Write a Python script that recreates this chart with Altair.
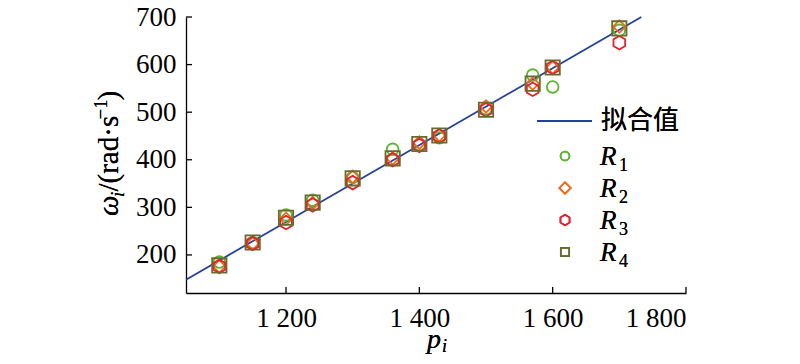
import altair as alt
import pandas as pd

# ---- data ----
p_vals = [1100, 1150, 1200, 1240, 1300, 1360, 1400, 1430, 1500, 1570, 1600, 1700]
r1 = [185, 226, 284, 315, 363, 422, 432, 446, 507, 578, 553, 672]
r2 = [176, 224, 276, 309, 364, 403, 436, 452, 512, 560, 594, 680]
r3 = [176, 224, 268, 305, 352, 400, 430, 450, 505, 548, 594, 646]
r4 = [178, 226, 278, 310, 361, 403, 433, 451, 505, 560, 594, 676]
fit_p = [1050, 1733]
fit_w = [148, 700]
x_ticks = [1200, 1400, 1600, 1800]
y_ticks = [200, 300, 400, 500, 600, 700]
series_names = ["R1", "R2", "R3", "R4"]
series_subs = ["1", "2", "3", "4"]
fit_label = "拟合值"
# y title pieces: (text, italic, size, shift across baseline)
ytitle_parts = [("ω", True, 29, 0), ("i", True, 19, 6), ("/(rad·s", False, 29, 0),
                ("−1", False, 19, -11), (")", False, 29, 0)]
ytitle_widths = [19, 5.5, 72, 19, 10]

HEX = "M0,-1L0.866,-0.5L0.866,0.5L0,1L-0.866,0.5L-0.866,-0.5Z"
shapes = ["circle", "diamond", HEX, "square"]
colors = ["#5cb531", "#ee6a22", "#e2222b", "#6b6a2e"]
sizes = [135, 205, 185, 130]
leg_sizes = [80, 130, 110, 70]
LINE_COLOR = "#23409a"
FONT = "Liberation Serif"
CJK = "Noto Sans CJK SC"

W, H = 500, 276

rows = []
for name, vals in zip(series_names, [r1, r2, r3, r4]):
    for p, w in zip(p_vals, vals):
        rows.append({"p": p, "w": w, "s": name})
pts = pd.DataFrame(rows)
fit = pd.DataFrame({"p": fit_p, "w": fit_w})
xt = pd.DataFrame({"p": x_ticks})
yt = pd.DataFrame({"w": y_ticks})

xs = alt.Scale(domain=[1050, 1800], nice=False, zero=False)
ys = alt.Scale(domain=[120, 700], nice=False, zero=False)

x_axis = alt.Axis(
    values=x_ticks, ticks=False, grid=False, domain=True, domainColor="#000", domainWidth=1.3,
    labelFont=FONT, labelFontSize=27, labelColor="#000", labelPadding=12,
    labelExpr="replace(format(datum.value, ','), ',', ' ')",
    title=None,
)
y_axis = alt.Axis(
    values=y_ticks, ticks=False, grid=False, domain=True, domainColor="#000", domainWidth=1.3,
    labelFont=FONT, labelFontSize=27, labelColor="#000", labelPadding=10,
    title=None,
)

line = alt.Chart(fit).mark_line(color=LINE_COLOR, strokeWidth=1.8).encode(
    x=alt.X("p:Q", scale=xs, axis=x_axis),
    y=alt.Y("w:Q", scale=ys, axis=y_axis),
)

points = alt.Chart(pts).mark_point(filled=False, strokeWidth=1.8, opacity=1).encode(
    x=alt.X("p:Q", scale=xs),
    y=alt.Y("w:Q", scale=ys),
    shape=alt.Shape("s:N", scale=alt.Scale(domain=series_names, range=shapes), legend=None),
    color=alt.Color("s:N", scale=alt.Scale(domain=series_names, range=colors), legend=None),
    size=alt.Size("s:N", scale=alt.Scale(domain=series_names, range=sizes), legend=None),
)

yticks = alt.Chart(yt).mark_rule(color="#000", strokeWidth=1.3).encode(
    y=alt.Y("w:Q", scale=ys), x=alt.value(0), x2=alt.value(6)
)
xticks = alt.Chart(xt).mark_rule(color="#000", strokeWidth=1.3).encode(
    x=alt.X("p:Q", scale=xs), y=alt.value(H), y2=alt.value(H - 6)
)

extra = []
# ---- axis titles as text pieces ----
ytop0 = 199  # start (bottom) of rotated y title, relative to plot top
xbase = -68  # baseline x of rotated y title, relative to plot left
pos = ytop0
for (txt, ital, sz, shift), wdt in zip(ytitle_parts, ytitle_widths):
    extra.append(
        alt.Chart(fit).mark_text(text=txt, font=FONT, fontStyle="italic" if ital else "normal",
                                 fontSize=sz, angle=270, align="left", baseline="alphabetic",
                                 color="#000").encode(
            x=alt.value(xbase + shift), y=alt.value(pos)
        )
    )
    pos -= wdt

extra.append(
    alt.Chart(fit).mark_text(text="p", font=FONT, fontStyle="italic", fontSize=28,
                             align="right", baseline="alphabetic", color="#000").encode(
        x=alt.value(255), y=alt.value(331)
    )
)
extra.append(
    alt.Chart(fit).mark_text(text="i", font=FONT, fontStyle="italic", fontSize=18,
                             align="left", baseline="alphabetic", color="#000").encode(
        x=alt.value(256), y=alt.value(335)
    )
)

# ---- manual legend ----
extra.append(
    alt.Chart(fit).mark_rule(color=LINE_COLOR, strokeWidth=1.8).encode(
        x=alt.value(351), x2=alt.value(406), y=alt.value(104)
    )
)
extra.append(
    alt.Chart(fit).mark_text(text=fit_label, font=CJK, fontSize=26, align="left",
                             baseline="middle", color="#000").encode(
        x=alt.value(415), y=alt.value(104)
    )
)
row_y = [139, 171, 203, 235]
for i in range(4):
    extra.append(
        alt.Chart(fit).mark_point(shape=shapes[i], color=colors[i], filled=False,
                                  size=leg_sizes[i], strokeWidth=1.7, opacity=1).encode(
            x=alt.value(379), y=alt.value(row_y[i])
        )
    )
    extra.append(
        alt.Chart(fit).mark_text(text="R", font=FONT, fontStyle="italic", fontSize=27,
                                 align="left", baseline="alphabetic", color="#000").encode(
            x=alt.value(414), y=alt.value(row_y[i] + 9)
        )
    )
    extra.append(
        alt.Chart(fit).mark_text(text=series_subs[i], font=FONT, fontSize=18,
                                 align="left", baseline="alphabetic", color="#000").encode(
            x=alt.value(433), y=alt.value(row_y[i] + 15)
        )
    )

chart = alt.layer(line, yticks, xticks, points, *extra).properties(
    width=W, height=H,
    padding={"left": 178, "top": 9, "right": 100, "bottom": 63},
    autosize=alt.AutoSizeParams(type="none"),
).configure_view(stroke=None)

chart.save("out.html", embed_options={"renderer": "svg", "actions": False})
